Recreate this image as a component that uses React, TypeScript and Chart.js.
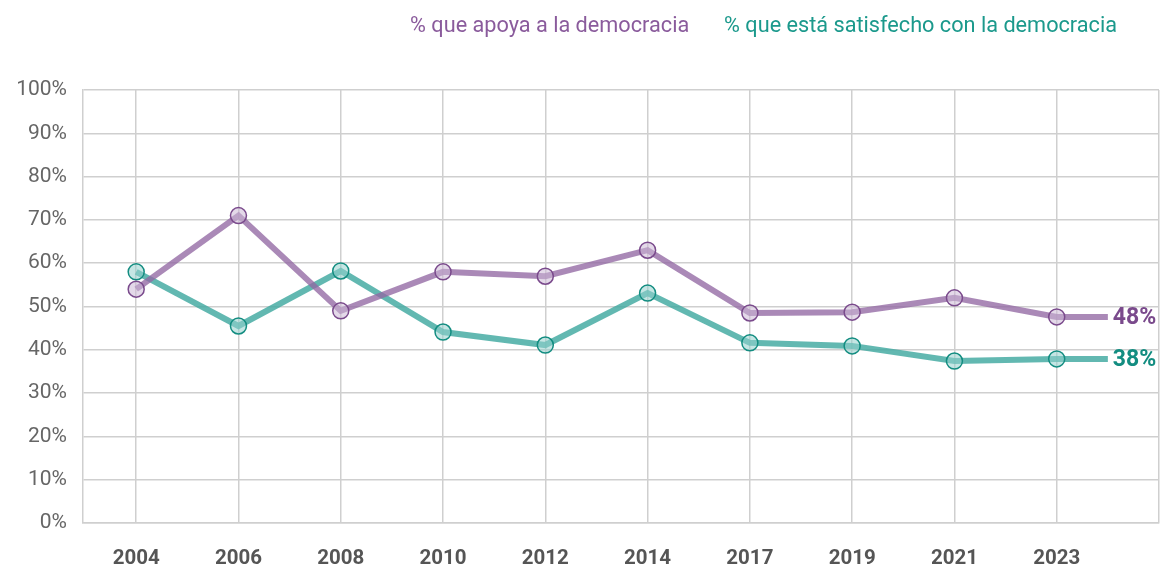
import React, { useEffect, useRef } from "react";
import { Chart, registerables } from "chart.js";

Chart.register(...registerables);

const years = ["2004", "2006", "2008", "2010", "2012", "2014", "2017", "2019", "2021", "2023"];
const apoya = [54, 71, 49, 58, 57, 63, 48.5, 48.7, 52, 47.6];
const satisfecho = [58, 45.5, 58.2, 44.1, 41.1, 53.1, 41.6, 40.9, 37.4, 37.9];
const seriesNames = ["% que apoya a la democracia", "% que está satisfecho con la democracia"];
const yTicks = [0, 10, 20, 30, 40, 50, 60, 70, 80, 90, 100];

const purpleLine = "rgba(146, 104, 163, 0.78)";
const purpleDark = "#7a4a8c";
const purpleText = "#8a5b9c";
const tealLine = "rgba(64, 168, 160, 0.82)";
const tealDark = "#138d81";
const tealText = "#1b998c";

export default function App() {
  const ref = useRef<HTMLCanvasElement>(null);

  useEffect(() => {
    if (!ref.current) return;
    const withTail = (vals: number[]) =>
      vals.map((v, i) => ({ x: i, y: v })).concat({ x: vals.length - 0.5, y: vals[vals.length - 1] });
    const lastIdx = years.length;

    const layoutPlugin = {
      id: "layoutTweak",
      beforeLayout(chart: any) {
        const lg = chart.legend;
        if (lg && !lg.__patched) {
          lg.__patched = true;
          const orig = lg.fit;
          lg.fit = function () {
            orig.call(this);
            this.height = 90;
          };
        }
      },
      afterLayout(chart: any) {
        const lg = chart.legend;
        if (lg) {
          lg.top = -8;
          lg.right = chart.width - 22;
        }
      },
    };

    const endLabels = {
      id: "endLabels",
      afterDatasetsDraw(chart: any) {
        const ctx = chart.ctx;
        const colors = [purpleDark, tealDark];
        chart.data.datasets.forEach((ds: any, di: number) => {
          const meta = chart.getDatasetMeta(di);
          const pt = meta.data[meta.data.length - 1];
          const val = ds.data[ds.data.length - 1].y;
          ctx.save();
          ctx.font = "bold 23px Roboto";
          ctx.fillStyle = colors[di];
          ctx.textAlign = "left";
          ctx.textBaseline = "middle";
          ctx.fillText(Math.round(val) + "%", pt.x + 5, pt.y + 1);
          ctx.restore();
        });
      },
    };

    const chart = new Chart(ref.current, {
      type: "line",
      data: {
        datasets: [
          {
            label: seriesNames[0],
            data: withTail(apoya),
            borderColor: purpleLine,
            borderWidth: 6,
            pointRadius: (c: any) => (c.dataIndex === lastIdx ? 0 : 8),
            pointBackgroundColor: "rgba(205, 185, 215, 0.55)",
            pointBorderColor: purpleDark,
            pointBorderWidth: 1.5,
            tension: 0,
          },
          {
            label: seriesNames[1],
            data: withTail(satisfecho),
            borderColor: tealLine,
            borderWidth: 6,
            pointRadius: (c: any) => (c.dataIndex === lastIdx ? 0 : 8),
            pointBackgroundColor: "rgba(150, 210, 205, 0.55)",
            pointBorderColor: tealDark,
            pointBorderWidth: 1.5,
            tension: 0,
          },
        ],
      },
      options: {
        animation: false,
        responsive: true,
        maintainAspectRatio: false,
        layout: { autoPadding: false, padding: { left: 0, right: 4, top: 0, bottom: 0 } },
        plugins: {
          tooltip: { enabled: false },
          legend: {
            position: "top",
            align: "end",
            labels: {
              boxWidth: 0,
              boxHeight: 0,
              padding: 24,
              font: { family: "Roboto", size: 21.7 },
              generateLabels: (chart: any) =>
                chart.data.datasets.map((ds: any, i: number) => ({
                  text: ds.label,
                  fillStyle: "rgba(0,0,0,0)",
                  strokeStyle: "rgba(0,0,0,0)",
                  lineWidth: 0,
                  fontColor: i === 0 ? purpleText : tealText,
                  hidden: false,
                  datasetIndex: i,
                })),
            },
          },
        },
        scales: {
          x: {
            type: "linear",
            min: -0.52,
            max: years.length,
            afterBuildTicks: (scale: any) => {
              scale.ticks = years.map((_, i) => ({ value: i })).concat({ value: years.length });
            },
            afterFit: (scale: any) => {
              scale.height = 45;
              scale.paddingLeft = 0;
              scale.paddingRight = 0;
            },
            grid: { color: "#cfcfcf", lineWidth: 1.5, drawTicks: false },
            border: { color: "#cfcfcf", width: 1.5 },
            ticks: {
              autoSkip: false,
              maxRotation: 0,
              padding: 24,
              color: "#555",
              font: { family: "Roboto", size: 20.5, weight: "bold" },
              callback: (v: any) => (years[v] !== undefined ? years[v] : ""),
            },
          },
          y: {
            min: 0,
            max: 100,
            afterBuildTicks: (scale: any) => {
              scale.ticks = yTicks.map((v) => ({ value: v }));
            },
            afterFit: (scale: any) => {
              scale.width = 83;
              scale.paddingTop = 0;
              scale.paddingBottom = 0;
            },
            grid: { color: "#cfcfcf", lineWidth: 1.5, drawTicks: false },
            border: { color: "#cfcfcf", width: 1.5 },
            ticks: {
              padding: 16,
              color: "#666",
              font: { family: "Roboto", size: 21 },
              callback: (v: any) => v + "%",
            },
          },
        },
      } as any,
      plugins: [layoutPlugin, endLabels],
    });
    return () => chart.destroy();
  }, []);

  return (
    <div style={{ position: "fixed", left: 0, top: 0, width: 1163, height: 568, background: "#fff" }}>
      <canvas ref={ref} />
    </div>
  );
}
